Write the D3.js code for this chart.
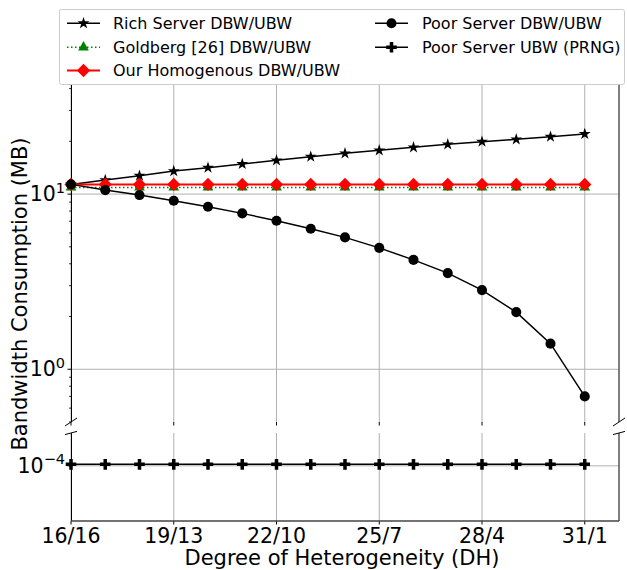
<!DOCTYPE html>
<html>
<head>
<meta charset="utf-8">
<script src="https://cdn.jsdelivr.net/npm/d3@7/dist/d3.min.js"></script>
<style>
  html, body { margin: 0; padding: 0; background: #fff; }
  svg { display: block; font-family: "DejaVu Sans", sans-serif; }
</style>
</head>
<body>
<svg id="chart" width="627" height="570"></svg>
<script>
// ---------------- data ----------------
const xValues = [16, 17, 18, 19, 20, 21, 22, 23, 24, 25, 26, 27, 28, 29, 30, 31];
const xTickValues = [16, 19, 22, 25, 28, 31];
const xTickLabels = ["16/16", "19/13", "22/10", "25/7", "28/4", "31/1"];

const richServer = [11.36, 12.02, 12.72, 13.53, 14.14, 14.84, 15.58, 16.34, 17.09, 17.77, 18.49, 19.23, 19.90, 20.54, 21.26, 22.03];
const goldberg   = [10.92, 10.92, 10.92, 10.92, 10.92, 10.92, 10.92, 10.92, 10.92, 10.92, 10.92, 10.92, 10.92, 10.92, 10.92, 10.92];
const homogenous = [11.35, 11.35, 11.35, 11.35, 11.35, 11.35, 11.35, 11.35, 11.35, 11.35, 11.35, 11.35, 11.35, 11.35, 11.35, 11.35];
const poorServer = [11.36, 10.54, 9.87, 9.16, 8.46, 7.76, 7.04, 6.34, 5.66, 4.93, 4.21, 3.54, 2.83, 2.12, 1.40, 0.70];
const poorPRNG   = [1.02e-4, 1.02e-4, 1.02e-4, 1.02e-4, 1.02e-4, 1.02e-4, 1.02e-4, 1.02e-4, 1.02e-4, 1.02e-4, 1.02e-4, 1.02e-4, 1.02e-4, 1.02e-4, 1.02e-4, 1.02e-4];

const topTicks = [1, 10];
const topTickExp = ["0", "1"];
const bottomTicks = [1e-4];
const bottomTickExp = ["\u22124"];

const seriesNames = ["Rich Server DBW/UBW", "Goldberg [26] DBW/UBW", "Our Homogenous DBW/UBW", "Poor Server DBW/UBW", "Poor Server UBW (PRNG)"];
const xLabel = "Degree of Heterogeneity (DH)";
const yLabel = "Bandwidth Consumption (MB)";

// ---------------- layout ----------------
const svg = d3.select("#chart");
const left = 71, right = 619;
const topY0 = 84, topY1 = 422;
const botY0 = 433, botY1 = 521;

const x = d3.scaleLinear().domain([16, 32]).range([left, right]);
const yTop = d3.scaleLog().domain([0.5, 42.5]).range([topY1, topY0]);
const yBot = d3.scaleLog().domain([4.79e-5, 1.55e-4]).range([botY1, botY0]);

const gridColor = "#b0b0b0";

// ---- grids ----
function grid(yScale, y0, y1, yTicksArr) {
  const g = svg.append("g");
  g.selectAll("line.vx").data(xTickValues).enter().append("line")
    .attr("x1", d => x(d)).attr("x2", d => x(d))
    .attr("y1", y0).attr("y2", y1)
    .attr("stroke", gridColor).attr("stroke-width", 1);
  g.selectAll("line.hy").data(yTicksArr).enter().append("line")
    .attr("x1", left).attr("x2", right)
    .attr("y1", d => yScale(d)).attr("y2", d => yScale(d))
    .attr("stroke", gridColor).attr("stroke-width", 1);
}
grid(yTop, topY0, topY1, topTicks);
grid(yBot, botY0, botY1, bottomTicks);

// ---- y axes ----
function yAxis(yScale, majors, exps, minors) {
  const g = svg.append("g");
  g.selectAll("line.maj").data(majors).enter().append("line")
    .attr("x1", left - 3.5).attr("x2", left)
    .attr("y1", d => yScale(d)).attr("y2", d => yScale(d))
    .attr("stroke", "#000").attr("stroke-width", 1);
  g.selectAll("line.min").data(minors).enter().append("line")
    .attr("x1", left - 2).attr("x2", left)
    .attr("y1", d => yScale(d)).attr("y2", d => yScale(d))
    .attr("stroke", "#000").attr("stroke-width", 0.8);
  const t = g.selectAll("text").data(majors).enter().append("text")
    .attr("x", left - 6).attr("y", d => yScale(d) + 7)
    .attr("text-anchor", "end").attr("font-size", 20.5).attr("fill", "#000");
  t.append("tspan").text("10");
  t.append("tspan").attr("dy", -8.5).attr("font-size", 14.5).text((d, i) => exps[i]);
}
const topMinors = [];
[0.1, 1, 10].forEach(dec => { for (let k = 2; k <= 9; k++) { const v = k * dec; if (v >= 0.5 && v <= 42.5) topMinors.push(v); } });
yAxis(yTop, topTicks, topTickExp, topMinors);
yAxis(yBot, bottomTicks, bottomTickExp, []);

// ---- x ticks ----
svg.append("g").selectAll("line").data(xTickValues).enter().append("line")
  .attr("x1", d => x(d)).attr("x2", d => x(d))
  .attr("y1", topY1).attr("y2", topY1 + 3.5)
  .attr("stroke", "#000").attr("stroke-width", 1);
svg.append("g").selectAll("line").data(xTickValues).enter().append("line")
  .attr("x1", d => x(d)).attr("x2", d => x(d))
  .attr("y1", botY1).attr("y2", botY1 + 3.5)
  .attr("stroke", "#000").attr("stroke-width", 1);
svg.append("g").selectAll("text").data(xTickValues).enter().append("text")
  .attr("x", d => x(d)).attr("y", 543)
  .attr("text-anchor", "middle").attr("font-size", 20.5).attr("fill", "#000")
  .text((d, i) => xTickLabels[i]);

// ---- spines ----
svg.append("line").attr("x1", left + 0.5).attr("x2", left + 0.5).attr("y1", topY0).attr("y2", topY1).attr("stroke", "#000").attr("stroke-width", 1);
svg.append("line").attr("x1", left + 0.5).attr("x2", left + 0.5).attr("y1", botY0).attr("y2", botY1).attr("stroke", "#000").attr("stroke-width", 1);
svg.append("line").attr("x1", right).attr("x2", right).attr("y1", topY0).attr("y2", topY1).attr("stroke", "#555").attr("stroke-width", 1.5);
svg.append("line").attr("x1", right).attr("x2", right).attr("y1", botY0).attr("y2", botY1).attr("stroke", "#555").attr("stroke-width", 1.5);
svg.append("line").attr("x1", left).attr("x2", right).attr("y1", botY1).attr("y2", botY1).attr("stroke", "#444").attr("stroke-width", 1.5);

// ---- break marks ----
[left, right].forEach(px => {
  svg.append("line").attr("x1", px - 6).attr("y1", topY1 + 4).attr("x2", px + 6).attr("y2", topY1 - 4)
    .attr("stroke", "#000").attr("stroke-width", 1);
  svg.append("line").attr("x1", px - 6).attr("y1", botY0 + 1.6).attr("x2", px + 6).attr("y2", botY0 - 1.6)
    .attr("stroke", "#000").attr("stroke-width", 1);
});

// ---- series ----
const symStar = d3.symbol().type(d3.symbolStar).size(44);
const symCircle = d3.symbol().type(d3.symbolCircle).size(80);
const symTri = d3.symbol().type(d3.symbolTriangle).size(50);
const symDiamond = d3.symbol().type(d3.symbolSquare).size(88);
const symPlus = d3.symbol().type(d3.symbolCross).size(62);

const series = [
  { name: seriesNames[0], vals: richServer, y: yTop, color: "#000", width: 1.5, dash: null, sym: symStar, rot: 0 },
  { name: seriesNames[1], vals: goldberg, y: yTop, color: "green", width: 1.5, dash: "1.5,2.5", sym: symTri, rot: 0 },
  { name: seriesNames[2], vals: homogenous, y: yTop, color: "#ff0000", width: 2, dash: null, sym: symDiamond, rot: 45 },
  { name: seriesNames[3], vals: poorServer, y: yTop, color: "#000", width: 1.5, dash: null, sym: symCircle, rot: 0 },
  { name: seriesNames[4], vals: poorPRNG, y: yBot, color: "#000", width: 1.5, dash: null, sym: symPlus, rot: 0 }
];

series.forEach(s => {
  const line = d3.line().x((d, i) => x(xValues[i])).y(d => s.y(d));
  const g = svg.append("g");
  g.append("path").datum(s.vals).attr("d", line)
    .attr("fill", "none").attr("stroke", s.color).attr("stroke-width", s.width)
    .attr("stroke-dasharray", s.dash);
  g.selectAll("path.m").data(s.vals).enter().append("path")
    .attr("d", s.sym())
    .attr("transform", (d, i) => `translate(${x(xValues[i])},${s.y(d)}) rotate(${s.rot})`)
    .attr("fill", s.color);
});

// ---- axis labels ----
svg.append("text").attr("x", 342).attr("y", 565).attr("text-anchor", "middle")
  .attr("font-size", 21).attr("fill", "#000").text(xLabel);
svg.append("text").attr("transform", "translate(27,294) rotate(-90)").attr("text-anchor", "middle")
  .attr("font-size", 21).attr("fill", "#000").text(yLabel);

// ---- legend ----
const lg = svg.append("g");
lg.append("rect").attr("x", 59.5).attr("y", 9.5).attr("width", 565).attr("height", 75)
  .attr("rx", 2).attr("fill", "#fff").attr("stroke", "#ccc").attr("stroke-width", 1);
const legendPos = [
  { hx: 67, tx: 113, y: 23.3 },
  { hx: 67, tx: 113, y: 47.3 },
  { hx: 67, tx: 113, y: 70.5 },
  { hx: 375, tx: 422, y: 23.3 },
  { hx: 375, tx: 422, y: 47.3 }
];
series.forEach((s, i) => {
  const p = legendPos[i];
  lg.append("line").attr("x1", p.hx).attr("x2", p.hx + 33).attr("y1", p.y).attr("y2", p.y)
    .attr("stroke", s.color).attr("stroke-width", s.width).attr("stroke-dasharray", s.dash);
  lg.append("path").attr("d", s.sym()).attr("transform", `translate(${p.hx + 16.5},${p.y}) rotate(${s.rot})`)
    .attr("fill", s.color);
  lg.append("text").attr("x", p.tx).attr("y", p.y + 5.8).attr("font-size", 16).attr("fill", "#000").text(s.name);
});
</script>
</body>
</html>
